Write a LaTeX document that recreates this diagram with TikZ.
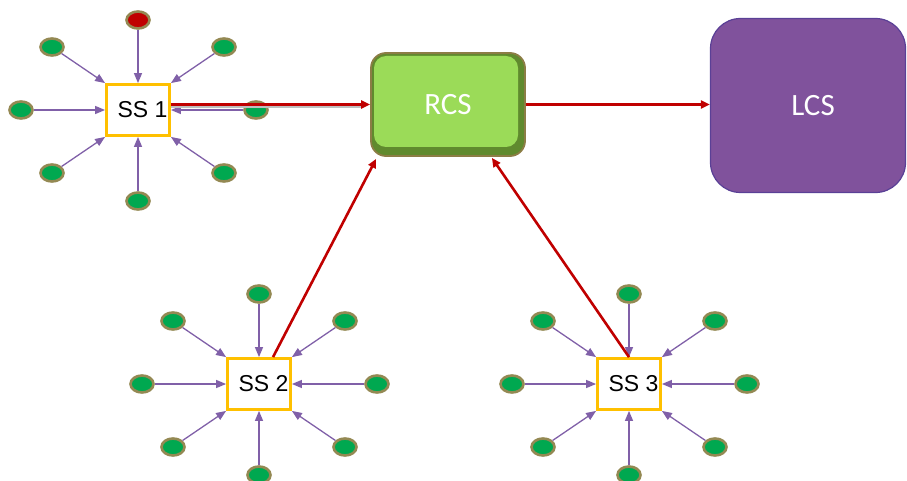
\documentclass[tikz,border=0pt]{standalone}
\usepackage{fontspec}
\setmainfont{Liberation Sans}
\newfontfamily\calib{Carlito}
\usetikzlibrary{arrows.meta,calc,shapes.geometric}
\definecolor{satgreen}{RGB}{0,168,80}
\definecolor{satred}{RGB}{192,0,0}
\definecolor{satrim}{RGB}{148,137,83}
\definecolor{linkpurple}{RGB}{128,96,168}
\definecolor{linkred}{RGB}{192,0,0}
\definecolor{ssgold}{RGB}{255,192,0}
\definecolor{rcsdark}{RGB}{96,138,46}
\definecolor{rcslight}{RGB}{155,219,88}
\definecolor{rcsrim}{RGB}{140,125,69}
\definecolor{lcsfill}{RGB}{128,82,156}
\definecolor{lcsrim}{RGB}{90,64,150}
\tikzset{
  sat/.style={ellipse,draw=satrim,line width=2.6pt,fill=satgreen,minimum width=23pt,minimum height=17pt,inner sep=0pt},
  satr/.style={sat,fill=satred},
  ssbox/.style={draw=ssgold,line width=2.8pt,fill=white,minimum width=63pt,minimum height=51pt,inner sep=0pt,font=\fontsize{23}{23}\selectfont},
  plink/.style={draw=linkpurple,line width=1.3pt,-{Triangle[length=10pt,width=8pt]}},
  rlink/.style={draw=linkred,line width=2.6pt,-{Triangle[length=9pt,width=8pt]}},
  rshadow/.style={draw=black!25,line width=2pt},
}
\begin{document}
\begin{tikzpicture}[x=1pt,y=-1pt]
\useasboundingbox (0,0) rectangle (907,481);
% main boxes
\node[draw=rcsrim,line width=1.8pt,fill=rcsdark,rounded corners=15pt,minimum width=154pt,minimum height=103pt,
  path picture={\fill[rcslight,rounded corners=12pt]
    ($(path picture bounding box.north west)+(3pt,-3pt)$) rectangle
    ($(path picture bounding box.south east)+(-7pt,9pt)$);},
  font=\calib\fontsize{31}{31}\selectfont,text=white] (RCS) at (448,104.5) {RCS};
\node[draw=lcsrim,line width=1.2pt,fill=lcsfill,rounded corners=30pt,minimum width=195pt,minimum height=174pt,
  font=\calib\fontsize{31}{31}\selectfont,text=white] (LCS) at (808,105.5) {\hspace*{10pt}LCS};
% substations
\foreach \n/\cx/\cy/\tc in {1/138/110/satr,2/259/384/sat,3/629/384/sat}{
  \node[\tc] (t\n) at (\cx,\cy-90) {};
  \node[sat] (tl\n) at (\cx-86,\cy-63) {};
  \node[sat] (tr\n) at (\cx+86,\cy-63) {};
  \node[sat] (l\n) at (\cx-117,\cy) {};
  \node[sat] (r\n) at (\cx+118,\cy) {};
  \node[sat] (bl\n) at (\cx-86,\cy+63) {};
  \node[sat] (br\n) at (\cx+86,\cy+63) {};
  \node[sat] (b\n) at (\cx,\cy+91) {};
  \node[ssbox] (SS\n) at (\cx,\cy) {\hspace*{9pt}SS \n};
  \draw[plink] (t\n) -- (SS\n.north);
  \draw[plink] (tl\n) -- (SS\n.north west);
  \draw[plink] (tr\n) -- (SS\n.north east);
  \draw[plink] (l\n) -- (SS\n.west);
  \draw[plink] (r\n) -- (SS\n.east);
  \draw[plink] (bl\n) -- (SS\n.south west);
  \draw[plink] (br\n) -- (SS\n.south east);
  \draw[plink] (b\n) -- (SS\n.south);
}
% red links
\draw[rshadow] ([yshift=-2.5pt]SS1.east |- RCS.west) -- ([xshift=-8pt,yshift=-2.5pt]RCS.west);
\draw[rlink] (SS1.east |- RCS.west) -- (RCS.west);
\draw[rlink] (RCS.east) -- (LCS.west |- RCS.east);
\draw[rlink] ([xshift=14pt]SS2.north) -- ([shift={(6pt,-2pt)}]RCS.south west);
\draw[rlink] (SS3.north) -- ([shift={(-34pt,-1pt)}]RCS.south east);
\end{tikzpicture}
\end{document}
